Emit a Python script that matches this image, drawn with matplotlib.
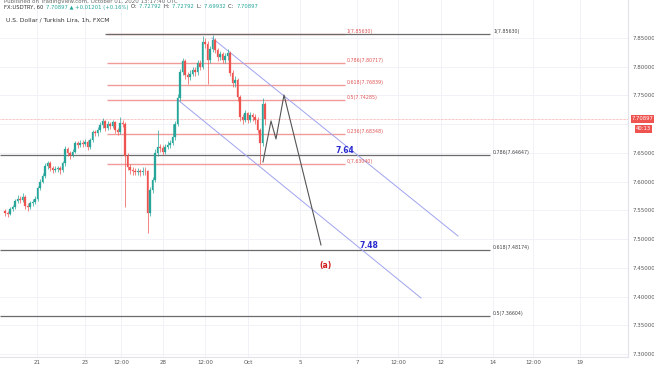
import numpy as np
import matplotlib
matplotlib.use("Agg")
import matplotlib.pyplot as plt

# hourly USD/TRY candles (close, high, low); open = previous close
closes = [7.545, 7.543, 7.552, 7.556, 7.566, 7.570, 7.568, 7.574, 7.558, 7.556,
          7.562, 7.565, 7.570, 7.588, 7.600, 7.610, 7.627, 7.632, 7.624, 7.620,
          7.622, 7.623, 7.620, 7.632, 7.656, 7.650, 7.646, 7.652, 7.667, 7.664,
          7.668, 7.666, 7.669, 7.660, 7.672, 7.686, 7.684, 7.690, 7.698, 7.705,
          7.694, 7.700, 7.697, 7.703, 7.690, 7.686, 7.702, 7.700, 7.645, 7.626,
          7.620, 7.618, 7.617, 7.618, 7.616, 7.619, 7.618, 7.545, 7.585, 7.603,
          7.650, 7.660, 7.658, 7.652, 7.660, 7.664, 7.668, 7.677, 7.700, 7.745,
          7.790, 7.810, 7.786, 7.782, 7.788, 7.794, 7.790, 7.806, 7.800, 7.843,
          7.840, 7.812, 7.830, 7.846, 7.829, 7.817, 7.822, 7.812, 7.818, 7.824,
          7.789, 7.772, 7.777, 7.747, 7.712, 7.707, 7.719, 7.708, 7.716, 7.712,
          7.707, 7.690, 7.667, 7.735, 7.709]
highs = [7.552, 7.549, 7.556, 7.560, 7.570, 7.576, 7.575, 7.580, 7.577, 7.562,
         7.566, 7.569, 7.575, 7.592, 7.604, 7.615, 7.632, 7.636, 7.635, 7.628,
         7.627, 7.628, 7.627, 7.636, 7.662, 7.660, 7.654, 7.657, 7.671, 7.670,
         7.673, 7.672, 7.674, 7.672, 7.676, 7.690, 7.690, 7.695, 7.703, 7.710,
         7.708, 7.705, 7.704, 7.708, 7.706, 7.694, 7.712, 7.708, 7.704, 7.650,
         7.631, 7.625, 7.623, 7.624, 7.622, 7.625, 7.626, 7.621, 7.590, 7.608,
         7.656, 7.690, 7.666, 7.663, 7.666, 7.670, 7.673, 7.700, 7.706, 7.752,
         7.796, 7.816, 7.813, 7.791, 7.794, 7.800, 7.799, 7.812, 7.811, 7.853,
         7.850, 7.844, 7.836, 7.856, 7.850, 7.833, 7.828, 7.826, 7.824, 7.831,
         7.828, 7.794, 7.784, 7.781, 7.750, 7.718, 7.725, 7.722, 7.722, 7.720,
         7.717, 7.712, 7.694, 7.745, 7.738]
lows = [7.540, 7.538, 7.541, 7.549, 7.553, 7.563, 7.563, 7.565, 7.552, 7.548,
        7.552, 7.558, 7.561, 7.567, 7.585, 7.597, 7.607, 7.622, 7.618, 7.615,
        7.616, 7.617, 7.614, 7.617, 7.628, 7.644, 7.640, 7.642, 7.649, 7.659,
        7.660, 7.661, 7.662, 7.655, 7.657, 7.669, 7.679, 7.680, 7.686, 7.694,
        7.688, 7.690, 7.691, 7.693, 7.684, 7.681, 7.683, 7.695, 7.556, 7.620,
        7.614, 7.612, 7.611, 7.612, 7.610, 7.611, 7.612, 7.511, 7.540, 7.580,
        7.600, 7.645, 7.651, 7.646, 7.648, 7.656, 7.659, 7.664, 7.673, 7.697,
        7.740, 7.785, 7.778, 7.770, 7.776, 7.783, 7.784, 7.786, 7.794, 7.796,
        7.833, 7.770, 7.806, 7.826, 7.823, 7.810, 7.811, 7.806, 7.806, 7.812,
        7.783, 7.764, 7.764, 7.740, 7.705, 7.700, 7.703, 7.702, 7.703, 7.705,
        7.700, 7.684, 7.6304, 7.662, 7.699]
first_open = 7.548
last_price = 7.70897

# time axis labels and the bar index they sit at
time_labels = ["21", "23", "12:00", "28", "12:00", "Oct", "5", "7", "12:00", "12", "14", "12:00", "19"]
time_label_bars = [12.8, 32, 46.4, 63.2, 80, 97.2, 118, 140.8, 157.2, 174.4, 195.2, 211.2, 230]
price_ticks = [7.30, 7.35, 7.40, 7.45, 7.50, 7.55, 7.60, 7.65, 7.70, 7.75, 7.80, 7.85]

# small fib retracement (red)
fib_small_ratios = ["1", "0.786", "0.618", "0.5", "0.236", "0"]
fib_small_prices = [7.85630, 7.80717, 7.76839, 7.74285, 7.68348, 7.63040]
fib_small_bars = (40.8, 136)
# big fib retracement (gray)
fib_big_ratios = ["1", "0.786", "0.618", "0.5"]
fib_big_prices = [7.85630, 7.64647, 7.48174, 7.36604]
fib_big_start = [40, -2, -2, -2]
fib_big_end = 194

# descending channel
channel_upper = ([82.8, 181.2], [7.850, 7.5053])
channel_lower = ([69.2, 166.4], [7.742, 7.3974])
# projected path
path_bars = [103.2, 106.4, 108.4, 111.6, 126.4]
path_prices = [7.6342, 7.7055, 7.6742, 7.7508, 7.4897]

# header pieces: (text, colour)
header = [("FX:USDTRY, 60 ", "#333333"), ("7.70897 \u25b2 +0.01201 (+0.16%) ", "#26a69a"),
          ("O: ", "#333333"), ("7.72792 ", "#26a69a"), ("H: ", "#333333"), ("7.72792 ", "#26a69a"),
          ("L: ", "#333333"), ("7.69932 ", "#26a69a"), ("C: ", "#333333"), ("7.70897", "#26a69a")]

green, red = "#26a69a", "#ef5350"
ymin, ymax = 7.2947, 7.9161

fig = plt.figure(figsize=(6.54, 3.66), dpi=100)
ax = fig.add_axes([0, 9 / 366, 628 / 654, 357 / 366])
ax.set_xlim(-2, 249.2)
ax.set_ylim(ymin, ymax)

# grid
for p in price_ticks:
    ax.axhline(p, color="#f0f2f7", lw=0.7, zorder=0)
for b in time_label_bars:
    ax.axvline(b, color="#f0f2f7", lw=0.7, zorder=0)

# candles
opens = [first_open] + closes[:-1]
for i, (o, h, l, c) in enumerate(zip(opens, highs, lows, closes)):
    col = green if c >= o else red
    ax.vlines(i, l, h, color=col, lw=0.5, zorder=3)
    ax.bar(i, abs(c - o) or 0.0008, bottom=min(o, c), width=0.7, color=col,
           edgecolor=col, lw=0.2, zorder=4)

# last price line
ax.axhline(last_price, color="#f28b8b", lw=0.5, ls=(0, (1, 1)), zorder=2)

# fib drawings
for r, p in zip(fib_small_ratios, fib_small_prices):
    ax.hlines(p, *fib_small_bars, color="#f19a9a", lw=1.0, zorder=2)
    ax.text(fib_small_bars[1] + 0.6, p, f"{r}({p:.5f})", color="#e05555",
            fontsize=3.4, va="bottom", ha="left")
for r, p, s in zip(fib_big_ratios, fib_big_prices, fib_big_start):
    ax.hlines(p, s, fib_big_end, color="#6b6b6b", lw=0.9, zorder=2)
    ax.text(fib_big_end + 1.2, p, f"{r}({p:.5f})", color="#444444",
            fontsize=3.4, va="bottom", ha="left")

# channel and projection
ax.plot(*channel_upper, color="#9fa3ee", lw=0.7, zorder=2)
ax.plot(*channel_lower, color="#9fa3ee", lw=0.7, zorder=2)
ax.plot(path_bars, path_prices, color="#555555", lw=0.8, zorder=5)

ax.text(132.4, 7.6465, "7.64", color="#2a2ad0", fontsize=5.5, fontweight="bold",
        va="bottom", ha="left")
ax.text(141.6, 7.4817, "7.48", color="#2a2ad0", fontsize=5.5, fontweight="bold",
        va="bottom", ha="left")
ax.text(125.6, 7.454, "(a)", color="#d01c1c", fontsize=5.5, fontweight="bold",
        va="center", ha="left")

# axes styling, 7.70 label is hidden behind the price badge
ax.yaxis.tick_right()
ax.set_yticks(price_ticks)
ax.set_yticklabels(["" if abs(p - 7.70) < 1e-9 else f"{p:.5f}" for p in price_ticks])
ax.set_xticks(time_label_bars)
ax.set_xticklabels(time_labels)
ax.tick_params(axis="y", length=0, pad=3, labelsize=4, labelcolor="#555555")
ax.tick_params(axis="x", length=0, pad=2, labelsize=4, labelcolor="#555555")
for s in ["top", "left"]:
    ax.spines[s].set_visible(False)
for s in ["right", "bottom"]:
    ax.spines[s].set_color("#e0e3eb")
    ax.spines[s].set_linewidth(0.8)

# last price badge
yb = (last_price - ymin) / (ymax - ymin)
ax.text(1.006, yb, f"{last_price:.5f}", transform=ax.transAxes, fontsize=3.8,
        color="white", va="center", ha="left",
        bbox=dict(boxstyle="square,pad=0.2", fc=red, ec="none"))
ax.text(1.013, yb - 10 / 357, "40:13", transform=ax.transAxes, fontsize=3.8,
        color="white", va="center", ha="left",
        bbox=dict(boxstyle="square,pad=0.2", fc=red, ec="none"))

# header
fig.text(4 / 654, 1 - 1 / 366, "Published on TradingView.com, October 01, 2020 13:17:40 UTC",
         fontsize=4, color="#666666", va="center")
renderer = fig.canvas.get_renderer()
x = 4 / 654
for txt, col in header:
    t = fig.text(x, 1 - 7 / 366, txt, fontsize=3.8, color=col, va="center")
    bb = t.get_window_extent(renderer)
    x = bb.x1 / fig.bbox.width + 1 / 654
fig.text(6 / 654, 1 - 20 / 366, "U.S. Dollar / Turkish Lira, 1h, FXCM", fontsize=4.3,
         color="#333333", va="center")

fig.savefig("out.png", dpi=100)
